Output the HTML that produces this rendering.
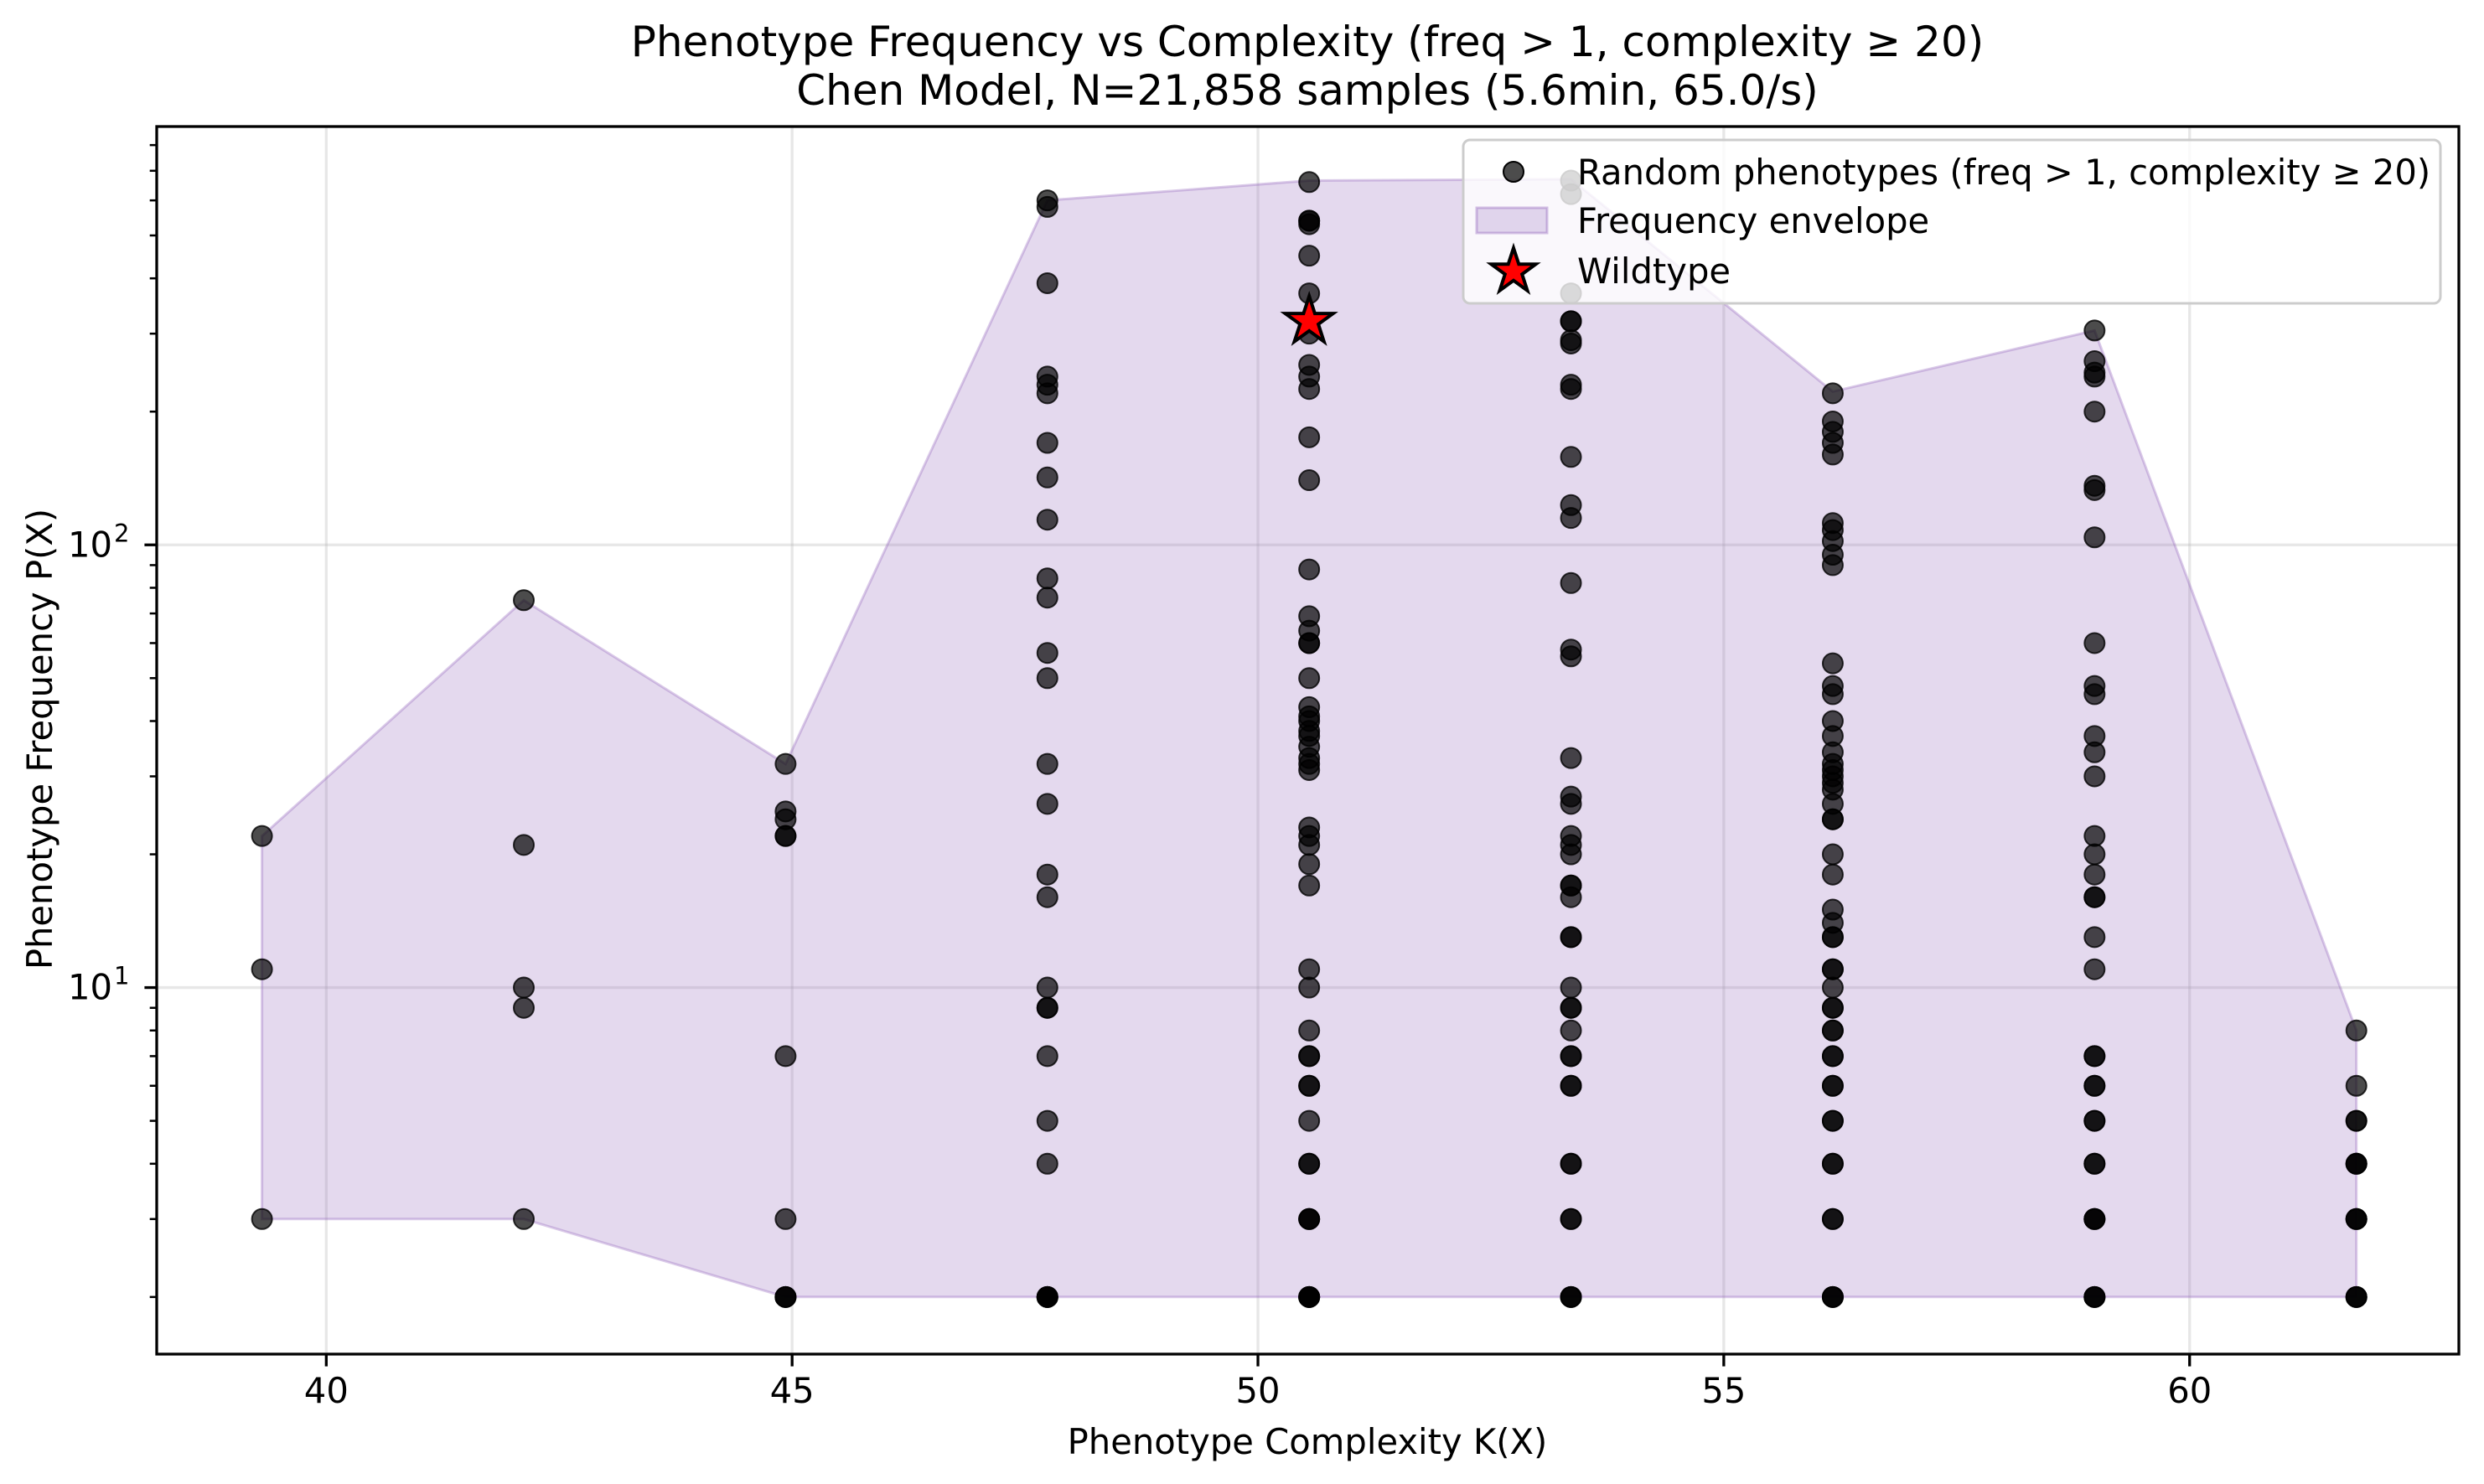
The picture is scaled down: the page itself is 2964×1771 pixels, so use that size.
<!DOCTYPE html>
<html><head><meta charset="utf-8">
<style>
html,body{margin:0;padding:0;background:#fff;}
svg{display:block;font-family:"DejaVu Sans","Liberation Sans",sans-serif;}
</style></head>
<body>
<svg id="chart" xmlns="http://www.w3.org/2000/svg" width="2964" height="1771" viewBox="0 0 2964 1771">
<rect width="2964" height="1771" fill="#fff"/>
<text x="1560" y="67" font-size="50" text-anchor="middle">Phenotype Frequency vs Complexity (freq &gt; 1, complexity ≥ 20)</text>
<text x="1560" y="125" font-size="50" text-anchor="middle">Chen Model, N=21,858 samples (5.6min, 65.0/s)</text>
<g id="grid"></g>
<g id="envelope"></g>
<g id="points"></g>
<g id="star"></g>
<g id="axes"></g>
<text x="1560" y="1735" font-size="41.7" text-anchor="middle">Phenotype Complexity K(X)</text>
<text transform="translate(62,882) rotate(-90)" font-size="41.7" text-anchor="middle">Phenotype Frequency P(X)</text>
<g>
  <rect x="1746" y="167" width="1166" height="195" rx="8" fill="#fff" fill-opacity="0.8" stroke="#ccc" stroke-width="3"/>
  <circle cx="1806" cy="205" r="12" fill="#000" fill-opacity="0.7" stroke="#000" stroke-width="2"/>
  <text x="1882" y="220" font-size="41.7">Random phenotypes (freq &gt; 1, complexity ≥ 20)</text>
  <rect x="1762" y="248" width="84" height="30" fill="#9467bd" fill-opacity="0.25" stroke="#9467bd" stroke-opacity="0.4" stroke-width="3"/>
  <text x="1882" y="278" font-size="41.7">Frequency envelope</text>
  <polygon id="legstar" fill="red" stroke="#000" stroke-width="4" stroke-linejoin="miter"/>
  <text x="1882" y="338" font-size="41.7">Wildtype</text>
</g>
</svg>
<script>
const complexities = [39.31, 42.12, 44.93, 47.74, 50.55, 53.36, 56.17, 58.98, 61.79];
const freqs = [
  [22, 11, 3],
  [75, 21, 10, 9, 3],
  [32, 25, 24, 22, 22, 7, 3, 2, 2, 2],
  [600, 580, 390, 240, 230, 220, 170, 142, 114, 84, 76, 57, 50, 32, 26, 18, 16, 10, 9, 9, 7, 5, 4, 2, 2, 2, 2],
  [660, 540, 540, 530, 450, 370, 300, 255, 240, 225, 175, 140, 88, 69, 64, 60, 60, 50, 43, 41, 40, 38, 37, 35, 33, 32, 31, 23, 22, 21, 19, 17, 11, 10, 8, 7, 7, 6, 6, 5, 4, 4, 3, 3, 3, 2, 2, 2, 2],
  [665, 620, 370, 320, 320, 290, 285, 230, 225, 158, 123, 115, 82, 58, 56, 33, 27, 26, 22, 21, 20, 17, 17, 16, 13, 13, 10, 9, 9, 8, 7, 7, 6, 6, 4, 4, 3, 3, 2, 2, 2],
  [220, 190, 180, 170, 160, 112, 108, 102, 95, 90, 54, 48, 46, 40, 37, 34, 32, 31, 30, 29, 28, 26, 24, 24, 20, 18, 15, 14, 13, 13, 11, 11, 10, 9, 9, 8, 8, 7, 7, 6, 6, 5, 5, 4, 4, 3, 3, 2, 2, 2],
  [305, 260, 245, 240, 200, 136, 133, 104, 60, 48, 46, 37, 34, 30, 22, 20, 18, 16, 16, 13, 11, 7, 7, 6, 6, 5, 5, 4, 4, 3, 3, 3, 2, 2, 2],
  [8, 6, 5, 5, 4, 4, 4, 3, 3, 3, 2, 2, 2]
];
const envelopeUpper = [22, 75, 32, 600, 665, 670, 222, 305, 8];
const envelopeLower = [3, 3, 2, 2, 2, 2, 2, 2, 2];
const wildtypeK = 50.55;
const wildtypeFreq = 320;
const xTicks = [40, 45, 50, 55, 60];
const yTicks = [10, 100];
const yTickExp = ["1", "2"];

const NS = "http://www.w3.org/2000/svg";
const L = 187, R = 2934, T = 151, B = 1616;
const X0 = 38.18, X1 = 62.89, LY0 = 0.172, LY1 = 2.945;
function xs(v){ return L + (v - X0) / (X1 - X0) * (R - L); }
function ys(v){ return B - (Math.log10(v) - LY0) / (LY1 - LY0) * (B - T); }
function mk(tag, attrs, parent){
  const e = document.createElementNS(NS, tag);
  for (const k in attrs) e.setAttribute(k, attrs[k]);
  parent.appendChild(e);
  return e;
}
function starPts(cx, cy, ro){
  const ri = ro * 0.382; const p = [];
  for (let i = 0; i < 10; i++){
    const r = i % 2 ? ri : ro; const a = -Math.PI/2 + i * Math.PI/5;
    p.push((cx + r*Math.cos(a)).toFixed(1) + "," + (cy + r*Math.sin(a)).toFixed(1));
  }
  return p.join(" ");
}

const grid = document.getElementById("grid");
xTicks.forEach(t => {
  const g = mk("line", {x1: xs(t), x2: xs(t), y1: T, y2: B, stroke: "#b0b0b0", "stroke-opacity": 0.3, "stroke-width": 3.3}, grid);
  
  
});
yTicks.forEach(t => {
  const g = mk("line", {x1: L, x2: R, y1: ys(t), y2: ys(t), stroke: "#b0b0b0", "stroke-opacity": 0.3, "stroke-width": 3.3}, grid);
  
  
});

const env = document.getElementById("envelope");
let pts = [];
complexities.forEach((c, i) => pts.push(xs(c).toFixed(1) + "," + ys(envelopeUpper[i]).toFixed(1)));
for (let i = complexities.length - 1; i >= 0; i--) pts.push(xs(complexities[i]).toFixed(1) + "," + ys(envelopeLower[i]).toFixed(1));
const poly = mk("polygon", {points: pts.join(" "), fill: "#9467bd", "fill-opacity": 0.25, stroke: "#9467bd", "stroke-opacity": 0.35, "stroke-width": 3}, env);



const pg = document.getElementById("points");
complexities.forEach((c, i) => {
  freqs[i].forEach(f => {
    const d = mk("circle", {cx: xs(c), cy: ys(f), r: 12, fill: "#000", "fill-opacity": 0.7, stroke: "#000", "stroke-opacity": 0.8, "stroke-width": 2}, pg);
    
    
  });
});

const sg = document.getElementById("star");
const st = mk("polygon", {points: starPts(xs(wildtypeK), ys(wildtypeFreq), 30), fill: "red", stroke: "#000", "stroke-width": 4}, sg);


document.getElementById("legstar").setAttribute("points", starPts(1806, 324, 28));

const ax = document.getElementById("axes");
const frame = mk("rect", {x: L, y: T, width: R - L, height: B - T, fill: "none", stroke: "#000", "stroke-width": 3.3}, ax);


xTicks.forEach(t => {
  mk("line", {x1: xs(t), x2: xs(t), y1: B, y2: B + 14.6, stroke: "#000", "stroke-width": 3.3}, ax);
  const lb = mk("text", {x: xs(t), y: 1674, "font-size": 41.7, "text-anchor": "middle"}, ax);
  lb.textContent = String(t);
  
  
});
for (let dec = 1; dec <= 100; dec *= 10){
  for (let m = 1; m <= 9; m++){
    const v = m * dec;
    const lv = Math.log10(v);
    if (lv < LY0 || lv > LY1) continue;
    const major = m === 1;
    mk("line", {x1: L - (major ? 14.6 : 8.3), x2: L, y1: ys(v), y2: ys(v), stroke: "#000", "stroke-width": major ? 3.3 : 2.5}, ax);
  }
}
yTicks.forEach((t, i) => {
  const lb = mk("text", {x: 134, y: ys(t) + 14, "font-size": 41.7, "text-anchor": "end"}, ax);
  lb.textContent = "10";
  
  
  const sp = mk("text", {x: 136, y: ys(t) - 4, "font-size": 29}, ax);
  sp.textContent = yTickExp[i];
  
  
});
</script>
</body></html>
